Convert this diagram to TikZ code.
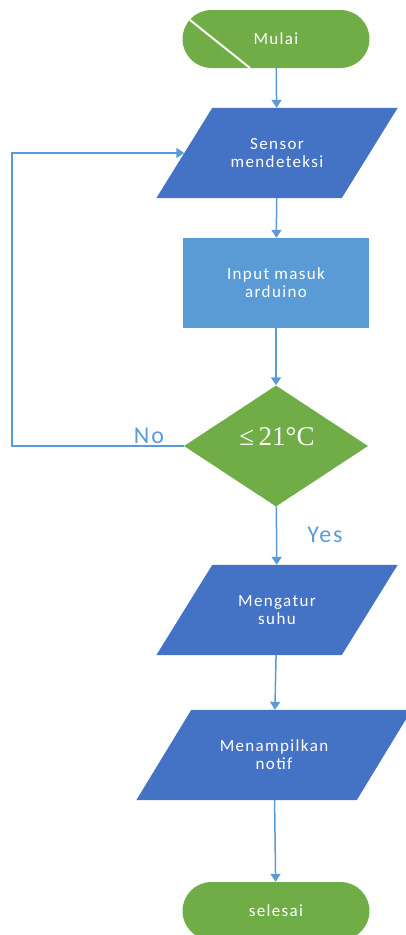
\documentclass[tikz,border=0pt]{standalone}
\usepackage{fontspec}
\setmainfont{Carlito}[LetterSpace=8]
\newfontfamily\condfont{Liberation Serif}
\usetikzlibrary{shapes.geometric,shapes.misc,arrows.meta,backgrounds}
\definecolor{termgreen}{HTML}{70AD47}
\definecolor{iodarkblue}{HTML}{4472C4}
\definecolor{proclightblue}{HTML}{5B9BD5}
\begin{document}
\begin{tikzpicture}[x=1pt,y=-1pt,
  box/.style={font=\fontsize{17}{18}\selectfont, text=white, align=center, inner sep=0pt},
  term/.style={box, rounded rectangle, fill=termgreen, minimum width=187pt, minimum height=58pt},
  io/.style={box, rectangle, minimum height=90pt},
  proc/.style={box, rectangle, fill=proclightblue, minimum width=186pt, minimum height=90pt},
  cond/.style={box, diamond, fill=termgreen, minimum width=184pt, minimum height=121pt},
  flow/.style={draw=proclightblue, line width=1.5pt, -{Triangle[width=10pt,length=8pt]}},
  answer/.style={text=proclightblue, font=\fontsize{24}{26}\selectfont, inner sep=0pt}]
\useasboundingbox (0,0) rectangle (406,935);
% Boxes from top to bottom
\node[term] (mulai) at (276,39) {Mulai};
\draw[white, line width=2pt] (190,20) -- (250,68);
\node[io, minimum width=185pt] (sensor) at (277,153) {Sensor\\mendeteksi};
\node[proc] (input) at (276,283) {Input masuk\\arduino};
\node[cond] (cek) at (276,446) {};
\node[font=\condfont\fontsize{27}{28}\selectfont, text=white, inner sep=0pt] (suhu) at (277,437) {≤\,21°C};
\node[io, minimum width=185pt] (atur) at (277,610) {Mengatur\\suhu};
\node[io, minimum width=220pt] (notif) at (274,755) {Menampilkan\\notif};
\node[term] (selesai) at (276,911) {selesai};
% Slanted sides of the input/output boxes
\begin{scope}[on background layer]
\foreach \io/\slant in {sensor/28, atur/28, notif/27.5}
  \fill[iodarkblue] ([xshift=\slant pt]\io.north west) -- ([xshift=\slant pt]\io.north east)
    -- ([xshift=-\slant pt]\io.south east) -- ([xshift=-\slant pt]\io.south west) -- cycle;
\end{scope}
% Labels of the two branches
\node[answer] (no) at (149,436) {No};
\node[answer] (yes) at (325,535) {Yes};
% Connectors
\coordinate (balik) at (12,446);
\draw[flow] (mulai) -- (sensor);
\draw[flow] (sensor) -- (input);
\draw[flow] (input) -- (cek);
\draw[flow] (cek) -- (atur);
\draw[flow] (atur) -- (notif);
\draw[flow] (notif) -- (selesai);
\draw[flow] (cek.west) -- (balik) |- (sensor.west);
\end{tikzpicture}
\end{document}
